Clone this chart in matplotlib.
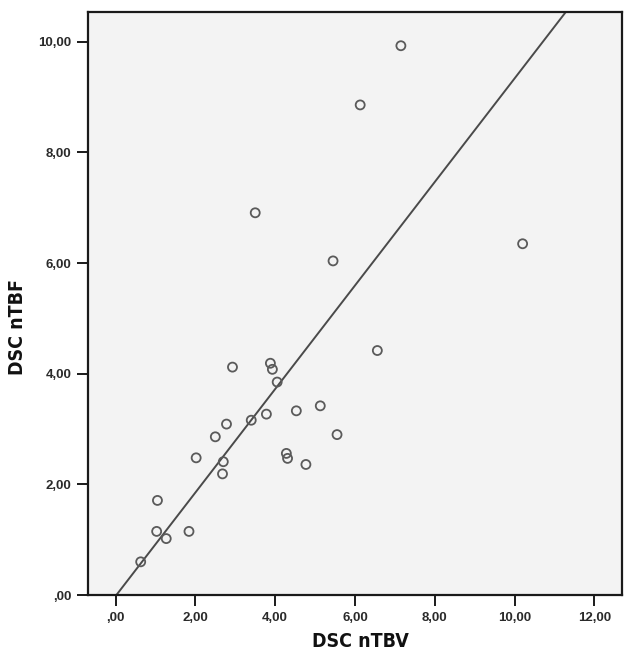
import matplotlib.pyplot as plt
import matplotlib.ticker as mticker

# data
ntbv = [7.15, 6.13, 3.50, 5.45, 10.20, 6.56, 2.93, 3.88, 3.93, 4.05,
        3.78, 3.40, 2.78, 2.50, 4.53, 5.13, 5.55, 4.28, 4.31, 4.77,
        2.02, 2.70, 2.68, 1.05, 1.03, 1.27, 1.84, 0.63]
ntbf = [9.93, 8.86, 6.91, 6.04, 6.35, 4.42, 4.12, 4.19, 4.08, 3.85,
        3.27, 3.16, 3.09, 2.86, 3.33, 3.42, 2.90, 2.56, 2.47, 2.36,
        2.48, 2.41, 2.19, 1.71, 1.15, 1.02, 1.15, 0.60]

# fit line (SPSS total fit)
fit_intercept = -0.02
fit_slope = 0.936

x_ticks = [0, 2, 4, 6, 8, 10, 12]
y_ticks = [0, 2, 4, 6, 8, 10]


def comma_fmt(v, pos):
    s = '{:.2f}'.format(v).replace('.', ',')
    if s.startswith('0,'):
        s = s[1:]
    return s


fig = plt.figure(figsize=(6.35, 6.59), dpi=100)
ax = fig.add_axes([0.1386, 0.0971, 0.8409, 0.8847])
ax.set_facecolor('#f3f3f3')

ax.scatter(ntbv, ntbf, s=42, facecolors='none', edgecolors='#5a5a5a',
           linewidths=1.3, zorder=3)
ax.axline((0, fit_intercept), slope=fit_slope, color='#4a4a4a', lw=1.4, zorder=2)

ax.set_xlim(-0.69, 12.69)
ax.set_ylim(0, 10.54)
ax.set_xticks(x_ticks)
ax.set_yticks(y_ticks)
ax.xaxis.set_major_formatter(mticker.FuncFormatter(comma_fmt))
ax.yaxis.set_major_formatter(mticker.FuncFormatter(comma_fmt))

for spine in ax.spines.values():
    spine.set_linewidth(1.6)
    spine.set_color('#1a1a1a')

ax.tick_params(direction='out', length=8, width=1.4, color='#1a1a1a',
               labelsize=9.5, pad=4)
for lab in ax.get_xticklabels() + ax.get_yticklabels():
    lab.set_family(['Liberation Sans', 'DejaVu Sans'])
    lab.set_fontweight('bold')
    lab.set_color('#2a2a2a')

label_font = dict(family='DejaVu Sans', fontstretch='condensed',
                  fontweight='bold', fontsize=14, color='#111111')
ax.set_xlabel('DSC nTBV', **label_font)
ax.set_ylabel('DSC nTBF', **label_font)
# SPSS centres the titles a little off the frame centre
ax.xaxis.set_label_coords(0.51, -0.064)
ax.yaxis.set_label_coords(-0.114, 0.46)

fig.savefig('out.png', dpi=100)
